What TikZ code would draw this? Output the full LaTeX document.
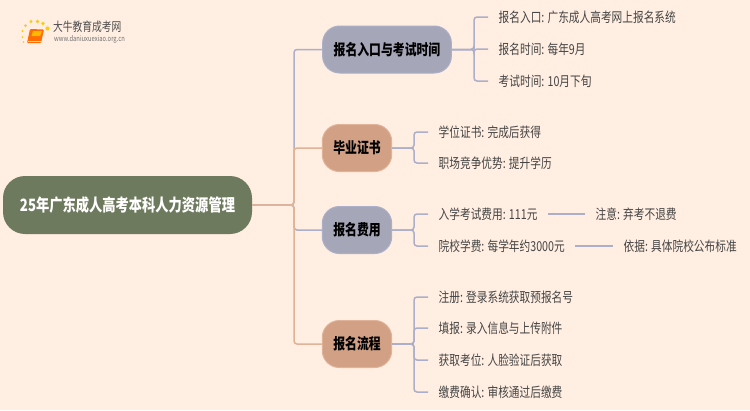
\documentclass[tikz,border=0pt]{standalone}
\usepackage{fontspec}
\setmainfont[FakeStretch=0.78]{Noto Sans CJK SC}
\usetikzlibrary{positioning}
\definecolor{pagebg}{HTML}{FFEEE1}
\definecolor{rootfill}{HTML}{6E7A5E}
\definecolor{bluefill}{HTML}{A5A6B8}
\definecolor{salmonfill}{HTML}{D2A084}
\definecolor{blueline}{HTML}{ABAFC8}
\definecolor{salmonline}{HTML}{E0B298}
\definecolor{leaftext}{HTML}{444444}
\tikzset{
  rootnode/.style={fill=rootfill,rounded corners=22pt,minimum width=249pt,minimum height=58pt,inner sep=0pt,font=\fontsize{17}{17}\selectfont\bfseries,text=white},
  topicblue/.style={fill=bluefill,draw=blueline,line width=1pt,rounded corners=17pt,minimum height=47pt,inner xsep=11pt,inner ysep=0pt,font=\fontsize{15.2}{16}\selectfont\bfseries,text=black},
  topicsalmon/.style={topicblue,fill=salmonfill,draw=salmonline},
  leafnode/.style={anchor=west,inner xsep=10.5pt,inner ysep=0pt,font=\fontsize{13.7}{14}\selectfont,text=leaftext},
  blueedge/.style={draw=blueline,line width=1.5pt,rounded corners=3pt},
  salmonedge/.style={draw=salmonline,line width=1.5pt,rounded corners=3pt}
}
\begin{document}
\begin{tikzpicture}[x=1pt,y=-1pt]
\useasboundingbox[fill=pagebg] (0,0) rectangle (750,410);
% root and topics
\node[rootnode] (root) at (127.5,205) {25年广东成人高考本科人力资源管理};
\node[topicblue] (entry) at (387,49.5) {报名入口与考试时间};
\node[topicsalmon] (cert) at (357,148) {毕业证书};
\node[topicblue] (fee) at (357,230) {报名费用};
\node[topicsalmon] (flow) at (357,344) {报名流程};
% leaves
\node[leafnode] (entrya) at (488,17) {报名入口: 广东成人高考网上报名系统};
\node[leafnode] (entryb) at (488,49) {报名时间: 每年9月};
\node[leafnode] (entryc) at (488,81) {考试时间: 10月下旬};
\node[leafnode] (certa) at (428,132) {学位证书: 完成后获得};
\node[leafnode] (certb) at (428,163) {职场竞争优势: 提升学历};
\node[leafnode] (feea) at (428,214) {入学考试费用: 111元};
\node[leafnode] (feeb) at (428,246) {院校学费: 每学年约3000元};
\node[leafnode] (notea) at (585,214) {注意: 弃考不退费};
\node[leafnode] (noteb) at (613,246) {依据: 具体院校公布标准};
\node[leafnode] (flowa) at (428,297) {注册: 登录系统获取预报名号};
\node[leafnode] (flowb) at (428,328) {填报: 录入信息与上传附件};
\node[leafnode] (flowc) at (428,360) {获取考位: 人脸验证后获取};
\node[leafnode] (flowd) at (428,392) {缴费确认: 审核通过后缴费};
% trunk
\coordinate (trunk) at (294,205);
\draw[blueedge] (root.east) -- (trunk) |- (entry.west);
\draw[blueedge] (root.east) -- (trunk) |- (fee.west);
\draw[salmonedge] (root.east) -- (trunk) |- (cert.west);
\draw[salmonedge] (root.east) -- (trunk) |- (flow.west);
% brackets
\coordinate (entryfork) at (474,49.5);
\coordinate (certfork) at (414,148);
\coordinate (feefork) at (414,230);
\coordinate (flowfork) at (414,344);
\foreach \leaf in {entrya,entryb,entryc}
  \draw[blueedge] (entry.east) -- (entryfork) |- (\leaf.west);
\foreach \leaf in {certa,certb}
  \draw[blueedge] (cert.east) -- (certfork) |- (\leaf.west);
\foreach \leaf in {feea,feeb}
  \draw[blueedge] (fee.east) -- (feefork) |- (\leaf.west);
\foreach \leaf in {flowa,flowb,flowc,flowd}
  \draw[blueedge] (flow.east) -- (flowfork) |- (\leaf.west);
\draw[blueedge] (feea.east) -- (notea.west);
\draw[blueedge] (feeb.east) -- (noteb.west);
% logo
\fill[orange!85!red,rounded corners=1pt] (30,29) -- (44,29.5) -- (41,43) -- (27,43) -- cycle;
\fill[orange!55!yellow] (33,31) -- (42,31) -- (40,36) -- (31.5,36) -- cycle;
\draw[orange!40,line width=.6pt] (27.5,41.5) -- (41,41.5);
\foreach \dotx/\doty/\dotr in {25.5/25.5/1.5,31/21.5/1.7,37.5/21.5/1.8,43/23.5/1.8,47.5/28.5/2.1,22.5/31/1.2,22.5/37/1,23.5/42/.8}
  \fill[yellow!65!orange] (\dotx,\doty) circle (\dotr);
\node[anchor=west,inner sep=0pt,font=\fontsize{12.5}{12}\selectfont,text=black!70] (logotext) at (53,27) {大牛教育成考网};
\node[anchor=west,inner sep=0pt,font=\fontsize{7.5}{7}\selectfont,text=black!55] (logourl) at (54,39) {www.daniuxuexiao.org.cn};
\end{tikzpicture}
\end{document}
